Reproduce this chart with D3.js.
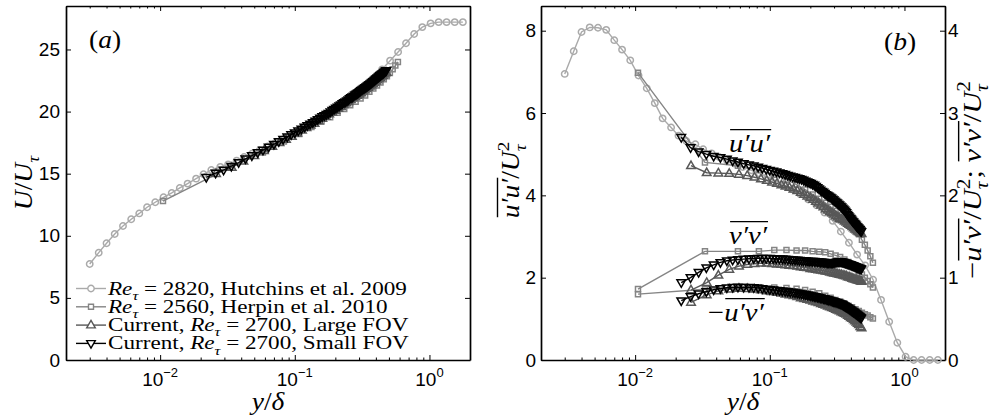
<!DOCTYPE html>
<html>
<head>
<meta charset="utf-8">
<script src="https://cdn.jsdelivr.net/npm/d3@7"></script>
<style>
  body { margin: 0; background: #fff; }
  svg { display: block; }
</style>
</head>
<body>
<div id="chart"></div>
<script>
// ---- data ----
// Hutchins et al. 2009 (Re_tau = 2820)
const hutY  = [0.0030,0.0035,0.0040,0.0046,0.0053,0.0061,0.0070,0.0080,0.0092,0.0106,0.0122,0.0140,0.0160,0.0185,0.0210,0.0240,0.0280,0.0320,0.0370,0.0420,0.0480,0.0550,0.0630,0.0730,0.0840,0.0960,0.110,0.127,0.146,0.168,0.193,0.222,0.255,0.293,0.337,0.387,0.445,0.510,0.585,0.670,0.770,0.885,1.02,1.17,1.34,1.54,1.77];
const hutU  = [7.73,8.64,9.40,10.14,10.79,11.33,11.80,12.30,12.70,13.10,13.45,13.85,14.20,14.60,14.95,15.30,15.55,15.75,16.05,16.35,16.60,16.90,17.20,17.55,17.85,18.20,18.55,18.95,19.35,19.75,20.15,20.60,21.05,21.55,22.10,22.70,23.40,24.10,24.80,25.50,26.25,26.80,27.10,27.20,27.20,27.20,27.20];
const hutUU = [6.95,7.50,7.97,8.08,8.07,8.02,7.77,7.54,7.28,6.91,6.60,6.24,5.87,5.65,5.45,5.32,5.24,5.12,5.02,4.93,4.85,4.77,4.69,4.61,4.53,4.45,4.36,4.26,4.15,4.03,3.90,3.76,3.58,3.38,3.12,2.85,2.56,2.30,1.95,1.46,0.93,0.42,0.08,0,0,0,0];

// Herpin et al. 2010 (Re_tau = 2560)
const herY  = [0.0105,0.033,0.058,0.083,0.108,0.133,0.158,0.183,0.208,0.233,0.258,0.283,0.308,0.333,0.358,0.383,0.408,0.433,0.458,0.483,0.508,0.533,0.558,0.583];
const herU  = [12.8,15.5,16.7,17.6,18.2,18.75,19.2,19.55,19.9,20.2,20.5,20.8,21.05,21.3,21.6,21.85,22.1,22.35,22.6,22.85,23.1,23.4,23.7,24.0];
const herUU = [6.98,4.80,4.72,4.62,4.50,4.38,4.26,4.14,4.02,3.92,3.82,3.72,3.62,3.52,3.44,3.36,3.26,3.15,3.06,2.92,2.80,2.66,2.52,2.36];
const herVV = [0.862,1.32,1.32,1.32,1.335,1.335,1.33,1.33,1.32,1.315,1.31,1.29,1.27,1.25,1.22,1.19,1.16,1.12,1.08,1.04,1.00,0.96,0.92,0.88];
const herUV = [0.80,0.86,0.88,0.885,0.88,0.875,0.865,0.85,0.83,0.81,0.78,0.755,0.73,0.71,0.685,0.66,0.64,0.615,0.595,0.575,0.555,0.54,0.52,0.505];

// Current, large FOV
const lrgY  = [0.026,0.034,0.0415,0.050,0.059,0.068,0.077,0.086,0.095,0.104,0.113,0.122,0.131,0.140,0.150,0.160,0.170,0.180,0.190,0.200,0.210,0.220,0.230,0.240,0.250,0.260,0.270,0.280,0.290,0.300,0.310,0.320,0.330,0.340,0.350,0.360,0.370,0.380,0.390,0.400,0.410,0.420,0.430,0.440,0.450,0.460,0.470,0.480];
const lrgU  = [15.0,15.5,16.0,16.45,16.85,17.2,17.5,17.75,18.0,18.25,18.5,18.7,18.9,19.05,19.25,19.45,19.6,19.8,19.95,20.1,20.25,20.4,20.55,20.7,20.8,20.95,21.1,21.2,21.3,21.4,21.5,21.65,21.75,21.85,21.95,22.05,22.15,22.25,22.35,22.45,22.55,22.65,22.75,22.85,22.9,23.0,23.1,23.15];
const lrgUU = [4.72,4.55,4.54,4.53,4.51,4.48,4.44,4.40,4.36,4.32,4.29,4.25,4.22,4.19,4.15,4.11,4.07,4.02,3.98,3.94,3.90,3.85,3.81,3.76,3.72,3.67,3.64,3.60,3.57,3.54,3.50,3.47,3.44,3.42,3.40,3.37,3.35,3.32,3.29,3.27,3.24,3.21,3.18,3.16,3.13,3.11,3.09,3.07];
const lrgVV = [0.85,0.94,1.03,1.10,1.14,1.16,1.17,1.175,1.175,1.17,1.165,1.16,1.155,1.15,1.145,1.14,1.13,1.125,1.12,1.11,1.105,1.10,1.095,1.09,1.085,1.08,1.075,1.065,1.06,1.055,1.05,1.045,1.04,1.035,1.03,1.025,1.02,1.01,1.005,1.00,0.99,0.985,0.98,0.975,0.97,0.965,0.96,0.955];
const lrgUV = [0.70,0.79,0.84,0.86,0.87,0.865,0.86,0.85,0.84,0.83,0.82,0.81,0.80,0.79,0.78,0.77,0.755,0.745,0.735,0.725,0.715,0.705,0.695,0.685,0.675,0.665,0.655,0.645,0.635,0.625,0.615,0.605,0.595,0.585,0.575,0.565,0.555,0.54,0.53,0.515,0.505,0.49,0.475,0.46,0.445,0.43,0.405,0.39];

// Current, small FOV (dense vectors)
const smlY  = [0.022,0.0258,0.0296,0.0338,0.0383,0.043,0.048,0.053,0.058,
  0.064,0.070,0.076,0.082,0.088,0.094,0.100,0.106,0.112,0.118,0.124,0.130,0.136,0.142,0.148,0.154,0.160,0.166,0.172,0.178,0.184,0.190,0.196,0.202,0.208,0.214,0.220,0.226,0.232,0.238,0.244,0.250,0.256,0.262,0.268,0.274,0.280,0.286,0.292,0.298,0.304,0.310,0.316,0.322,0.328,0.334,0.340,0.346,0.352,0.358,0.364,0.370,0.376,0.382,0.388,0.394,0.400,0.406,0.412,0.418,0.424,0.430,0.436,0.442,0.448,0.454,0.460,0.466,0.472,0.478];
const smlU  = [14.7,15.05,15.3,15.6,15.9,16.2,16.45,16.7,16.9,
  17.15,17.37,17.58,17.77,17.96,18.15,18.3,18.45,18.6,18.75,18.88,19.0,19.12,19.24,19.36,19.48,19.6,19.69,19.78,19.87,19.98,20.1,20.19,20.28,20.37,20.46,20.55,20.64,20.72,20.78,20.86,20.95,21.04,21.12,21.18,21.26,21.35,21.41,21.47,21.53,21.61,21.7,21.76,21.82,21.88,21.94,22.0,22.06,22.12,22.18,22.24,22.3,22.36,22.42,22.48,22.54,22.6,22.66,22.72,22.78,22.84,22.9,22.96,23.01,23.04,23.09,23.15,23.21,23.27,23.3];
const smlUU = [5.41,5.16,5.06,5.00,4.95,4.92,4.88,4.84,4.81,
  4.77,4.74,4.72,4.69,4.66,4.63,4.61,4.59,4.57,4.55,4.53,4.51,4.49,4.47,4.45,4.44,4.42,4.41,4.39,4.37,4.35,4.33,4.31,4.29,4.27,4.25,4.22,4.19,4.16,4.13,4.10,4.08,4.05,4.02,4.00,3.98,3.96,3.94,3.91,3.89,3.86,3.84,3.82,3.79,3.77,3.74,3.72,3.69,3.67,3.64,3.61,3.58,3.54,3.51,3.48,3.45,3.43,3.40,3.37,3.35,3.32,3.30,3.28,3.25,3.23,3.21,3.19,3.17,3.14,3.12];
const smlVV = [0.94,1.00,1.065,1.12,1.155,1.185,1.205,1.215,1.22,
  1.225,1.23,1.233,1.235,1.235,1.235,1.235,1.233,1.23,1.23,1.228,1.225,1.222,1.22,1.217,1.215,1.213,1.21,1.208,1.206,1.204,1.202,1.20,1.20,1.199,1.198,1.197,1.195,1.193,1.191,1.19,1.188,1.186,1.184,1.182,1.181,1.18,1.18,1.181,1.183,1.185,1.188,1.19,1.192,1.194,1.195,1.193,1.19,1.187,1.183,1.179,1.175,1.171,1.167,1.163,1.159,1.155,1.151,1.147,1.143,1.139,1.135,1.131,1.127,1.123,1.12,1.116,1.112,1.108,1.105];
const smlUV = [0.72,0.77,0.805,0.83,0.853,0.868,0.878,0.883,0.885,
  0.884,0.882,0.879,0.875,0.869,0.863,0.856,0.852,0.847,0.843,0.838,0.834,0.830,0.825,0.821,0.816,0.812,0.808,0.803,0.799,0.794,0.790,0.786,0.781,0.777,0.772,0.768,0.764,0.759,0.755,0.750,0.746,0.742,0.737,0.733,0.728,0.724,0.720,0.715,0.711,0.706,0.702,0.698,0.693,0.689,0.684,0.680,0.673,0.665,0.658,0.650,0.643,0.636,0.628,0.621,0.613,0.606,0.599,0.591,0.584,0.576,0.569,0.562,0.554,0.547,0.539,0.532,0.525,0.517,0.510];

// ticks
const xMajorTicks = [0.01, 0.1, 1];
const xMajorExp   = ["\u22122", "\u22121", "0"];
const yTicksA  = [0, 5, 10, 15, 20, 25];
const yTicksB  = [0, 2, 4, 6, 8];
const yTicksBR = [0, 1, 2, 3, 4];

// ---- setup ----
const width = 993, height = 417;
const serif = '"Liberation Serif", "Times New Roman", serif';
const sans = '"Liberation Sans", Arial, sans-serif';

const svg = d3.select("#chart").append("svg")
  .attr("width", width)
  .attr("height", height);

// panel (a) scales
const xA = d3.scaleLog().domain([0.002, 2]).range([66, 470]);
const yA = d3.scaleLinear().domain([0, 28.5]).range([360, 6]);
// panel (b) scales, right axis is half of the left one
const xB = d3.scaleLog().domain([0.002, 2]).range([541, 945]);
const yB = d3.scaleLinear().domain([0, 8.6]).range([360, 6]);
const yBR = d3.scaleLinear().domain([0, 4.3]).range([360, 6]);

// minor log ticks (positions only, no labels)
const minorTicks = [];
[0.001, 0.01, 0.1, 1].forEach(dec => {
  for (let k = 2; k <= 9; k++) {
    const v = dec * k;
    if (v > 0.002 - 1e-9 && v < 2 + 1e-9) minorTicks.push(v);
  }
});

const styles = {
  hut: { color: "#aaaaaa", marker: "circle" },
  her: { color: "#858585", marker: "square" },
  lrg: { color: "#585858", marker: "up" },
  sml: { color: "#000000", marker: "down" }
};

const markerD = {
  circle: d3.symbol().type(d3.symbolCircle).size(32)(),
  square: "M-2.5,-2.5h5v5h-5Z",
  up: "M0,-4.7L4.3,2.8L-4.3,2.8Z",
  down: "M0,4.7L4.3,-2.8L-4.3,-2.8Z"
};

function drawSeries(g, xs, ys, x, y, st) {
  const pts = xs.map((v, i) => [x(v), y(ys[i])]);
  g.append("path")
    .attr("d", d3.line()(pts))
    .attr("fill", "none")
    .attr("stroke", st.color)
    .attr("stroke-width", 1.4);
  g.append("g")
    .selectAll("path")
    .data(pts)
    .join("path")
    .attr("transform", d => `translate(${d[0]},${d[1]})`)
    .attr("d", markerD[st.marker])
    .attr("fill", "none")
    .attr("stroke", st.color)
    .attr("stroke-width", 1.5);
}

// text built from runs (italic, sub/superscript, overlines)
function mathText(parent, runs, o) {
  const fs = o.fs;
  const outer = parent.append("g")
    .attr("transform", `translate(${o.x},${o.y})` + (o.rotate ? " rotate(-90)" : ""));
  const inner = outer.append("g");
  let cx = 0, prevX = 0;
  const bars = {};
  runs.forEach(r => {
    const size = (r.sub || r.sup) ? fs * 0.7 : fs;
    const x0 = r.stack ? prevX : cx;
    const t = inner.append("text")
      .attr("x", x0)
      .attr("y", r.sub ? fs * 0.28 : r.sup ? -fs * 0.42 : 0)
      .attr("font-family", serif)
      .attr("font-size", size)
      .attr("font-style", r.it ? "italic" : "normal")
      .style("white-space", "pre")
      .text(r.t);
    const w = t.node().getComputedTextLength();
    if (r.ol) {
      if (!bars[r.ol]) bars[r.ol] = [x0, x0];
      bars[r.ol][1] = x0 + w;
    }
    prevX = x0;
    cx = Math.max(cx, x0 + w);
  });
  Object.values(bars).forEach(b => {
    inner.append("line")
      .attr("x1", b[0] + 1).attr("x2", b[1] + 1)
      .attr("y1", -fs * 0.86).attr("y2", -fs * 0.86)
      .attr("stroke", "#000").attr("stroke-width", 1.4);
  });
  const sx = o.stretch || 1;
  const shift = o.anchor === "middle" ? -cx * sx / 2 : 0;
  inner.attr("transform", `translate(${shift},0) scale(${sx},1)`);
  return cx * sx;
}

function drawFrame(x, y, yTicks, opt) {
  const [x0, x1] = x.range();
  const [yb, yt] = y.range();
  const g = svg.append("g");
  const thick = sel => sel.select(".domain").attr("stroke-width", 1.7);

  // bottom / top
  g.append("g").attr("transform", `translate(0,${yb})`)
    .call(d3.axisBottom(x).tickValues(xMajorTicks).tickSizeInner(-5).tickSizeOuter(0).tickFormat(""))
    .call(thick);
  g.append("g").attr("transform", `translate(0,${yb})`)
    .call(d3.axisBottom(x).tickValues(minorTicks).tickSizeInner(-2.5).tickSizeOuter(0).tickFormat(""))
    .call(s => s.select(".domain").remove());
  g.append("g").attr("transform", `translate(0,${yt})`)
    .call(d3.axisTop(x).tickValues(xMajorTicks).tickSizeInner(-5).tickSizeOuter(0).tickFormat(""))
    .call(thick);
  g.append("g").attr("transform", `translate(0,${yt})`)
    .call(d3.axisTop(x).tickValues(minorTicks).tickSizeInner(-2.5).tickSizeOuter(0).tickFormat(""))
    .call(s => s.select(".domain").remove());

  // left
  g.append("g").attr("transform", `translate(${x0},0)`)
    .call(d3.axisLeft(y).tickValues(yTicks).tickSizeInner(-5).tickSizeOuter(0).tickPadding(opt.padL))
    .call(thick)
    .attr("font-family", sans).attr("font-size", 19);

  // right
  if (opt.rightScale) {
    g.append("g").attr("transform", `translate(${x1},0)`)
      .call(d3.axisRight(opt.rightScale).tickValues(opt.rightTicks).tickFormat(d3.format("d"))
        .tickSizeInner(-5).tickSizeOuter(0).tickPadding(3))
      .call(thick)
      .attr("font-family", sans).attr("font-size", 19);
  } else {
    g.append("g").attr("transform", `translate(${x1},0)`)
      .call(d3.axisRight(y).tickValues(yTicks).tickSizeInner(-5).tickSizeOuter(0).tickFormat(""))
      .call(thick);
  }

  // log tick labels 10^n
  const lab = g.append("g").attr("font-family", sans).attr("text-anchor", "middle");
  xMajorTicks.forEach((v, i) => {
    const t = lab.append("text").attr("x", x(v)).attr("y", 386).attr("font-size", 19);
    t.append("tspan").text("10");
    t.append("tspan").attr("dy", -9).attr("font-size", 13).text(xMajorExp[i]);
  });
}

// ---- panel (a) ----
drawFrame(xA, yA, yTicksA, { padL: 6 });
const gA = svg.append("g");
drawSeries(gA, hutY, hutU, xA, yA, styles.hut);
drawSeries(gA, herY, herU, xA, yA, styles.her);
drawSeries(gA, lrgY, lrgU, xA, yA, styles.lrg);
drawSeries(gA, smlY, smlU, xA, yA, styles.sml);

mathText(svg, [{ t: "(" }, { t: "a", it: true }, { t: ")" }], { x: 89, y: 48, fs: 25, stretch: 1.1 });
mathText(svg, [{ t: "y", it: true }, { t: "/" }, { t: "\u03b4", it: true }], { x: 268, y: 410, fs: 25, anchor: "middle", stretch: 1.1 });
mathText(svg, [{ t: "U", it: true }, { t: "/" }, { t: "U", it: true }, { t: "\u03c4", it: true, sub: true }],
  { x: 32, y: 183, fs: 25, anchor: "middle", rotate: true, stretch: 1.1 });

// legend
const legendRows = [
  { st: styles.hut, runs: [{ t: "Re", it: true }, { t: "\u03c4", it: true, sub: true }, { t: " = 2820, Hutchins et al. 2009" }] },
  { st: styles.her, runs: [{ t: "Re", it: true }, { t: "\u03c4", it: true, sub: true }, { t: " = 2560, Herpin et al. 2010" }] },
  { st: styles.lrg, runs: [{ t: "Current, " }, { t: "Re", it: true }, { t: "\u03c4", it: true, sub: true }, { t: " = 2700, Large FOV" }] },
  { st: styles.sml, runs: [{ t: "Current, " }, { t: "Re", it: true }, { t: "\u03c4", it: true, sub: true }, { t: " = 2700, Small FOV" }] }
];
const legend = svg.append("g");
legendRows.forEach((r, i) => {
  const ly = 288.5 + i * 18.3;
  legend.append("line").attr("x1", 76).attr("x2", 106).attr("y1", ly).attr("y2", ly)
    .attr("stroke", r.st.color).attr("stroke-width", 1.4);
  legend.append("path").attr("transform", `translate(91,${ly})`).attr("d", markerD[r.st.marker])
    .attr("fill", "#fff").attr("stroke", r.st.color).attr("stroke-width", 1.4);
  mathText(legend, r.runs, { x: 108, y: ly + 6, fs: 18.5, stretch: 1.25 });
});

// ---- panel (b) ----
drawFrame(xB, yB, yTicksB, { padL: 5, rightScale: yBR, rightTicks: yTicksBR });
const gB = svg.append("g");
drawSeries(gB, hutY, hutUU, xB, yB, styles.hut);
drawSeries(gB, herY, herUU, xB, yB, styles.her);
drawSeries(gB, herY, herVV, xB, yBR, styles.her);
drawSeries(gB, herY, herUV, xB, yBR, styles.her);
drawSeries(gB, lrgY, lrgUU, xB, yB, styles.lrg);
drawSeries(gB, lrgY, lrgVV, xB, yBR, styles.lrg);
drawSeries(gB, lrgY, lrgUV, xB, yBR, styles.lrg);
drawSeries(gB, smlY, smlUU, xB, yB, styles.sml);
drawSeries(gB, smlY, smlVV, xB, yBR, styles.sml);
drawSeries(gB, smlY, smlUV, xB, yBR, styles.sml);

mathText(svg, [{ t: "(" }, { t: "b", it: true }, { t: ")" }], { x: 884, y: 50, fs: 25, stretch: 1.1 });
mathText(svg, [{ t: "y", it: true }, { t: "/" }, { t: "\u03b4", it: true }], { x: 743, y: 410, fs: 25, anchor: "middle", stretch: 1.1 });

// curve annotations
mathText(svg, [{ t: "u\u2032u\u2032", it: true, ol: 1 }], { x: 729, y: 152, fs: 26, stretch: 1.1 });
mathText(svg, [{ t: "v\u2032v\u2032", it: true, ol: 1 }], { x: 729, y: 244, fs: 26, stretch: 1.1 });
mathText(svg, [{ t: "\u2212" }, { t: "u\u2032v\u2032", it: true, ol: 1 }], { x: 708, y: 321, fs: 26, stretch: 1.1 });

// left label of (b)
mathText(svg, [
  { t: "u\u2032u\u2032", it: true, ol: 1 }, { t: "/" }, { t: "U", it: true },
  { t: "\u03c4", it: true, sub: true }, { t: "2", sup: true, stack: true }
], { x: 519, y: 180, fs: 25, anchor: "middle", rotate: true, stretch: 1.1 });

// right label of (b)
mathText(svg, [
  { t: "\u2212" }, { t: "u\u2032v\u2032", it: true, ol: 1 }, { t: "/" }, { t: "U", it: true },
  { t: "\u03c4", it: true, sub: true }, { t: "2", sup: true, stack: true }, { t: "; " },
  { t: "v\u2032v\u2032", it: true, ol: 2 }, { t: "/" }, { t: "U", it: true },
  { t: "\u03c4", it: true, sub: true }, { t: "2", sup: true, stack: true }
], { x: 981, y: 180, fs: 26, anchor: "middle", rotate: true, stretch: 1.17 });
</script>
</body>
</html>
